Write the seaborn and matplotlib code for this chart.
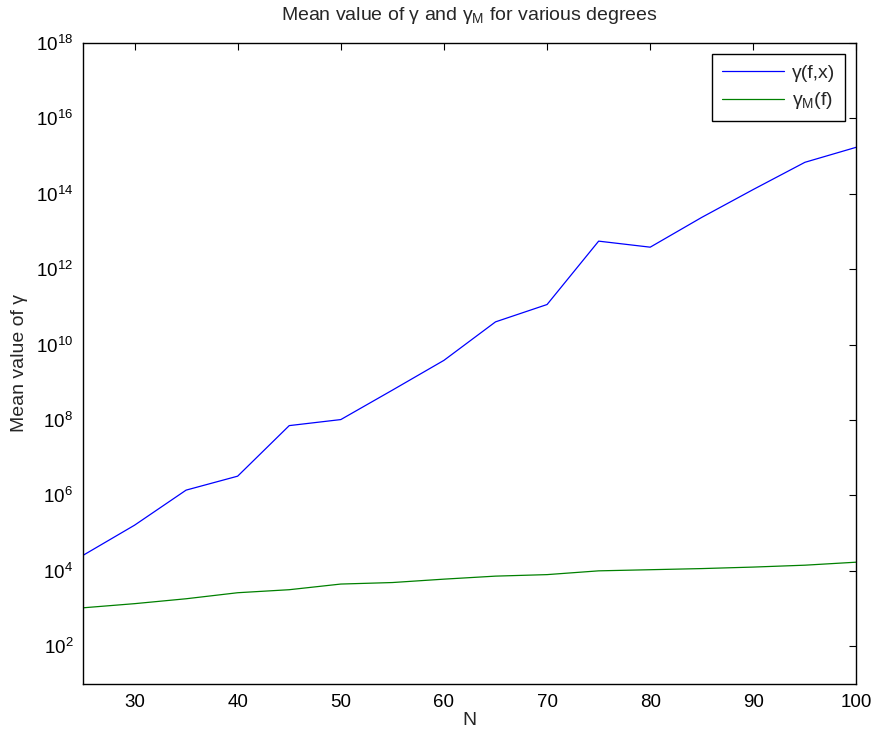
import numpy as np
import pandas as pd
import matplotlib
matplotlib.use("Agg")
import matplotlib.pyplot as plt
import seaborn as sns
from matplotlib.ticker import NullLocator

# Data (log10 of mean values)
N = [25, 30, 35, 40, 45, 50, 55, 60, 65, 70, 75, 80, 85, 90, 95, 100]
log_gamma_fx = [4.41, 5.21, 6.14, 6.51, 7.85, 8.01, 8.79, 9.58, 10.60, 11.06,
                12.74, 12.58, 13.37, 14.11, 14.83, 15.23]
log_gamma_M = [3.02, 3.13, 3.26, 3.42, 3.50, 3.65, 3.69, 3.78, 3.86, 3.90,
               4.00, 4.03, 4.06, 4.10, 4.15, 4.23]
labels = ["γ(f,x)", "γ$_{M}$(f)"]
colors = ["#0000ff", "#008000"]
x_ticks = [30, 40, 50, 60, 70, 80, 90, 100]
y_tick_exps = [2, 4, 6, 8, 10, 12, 14, 16, 18]

df = pd.DataFrame({
    "N": N * 2,
    "value": [10 ** v for v in log_gamma_fx] + [10 ** v for v in log_gamma_M],
    "series": [labels[0]] * len(N) + [labels[1]] * len(N),
})

sns.set_style("white")
plt.rcParams["font.family"] = ["Liberation Sans", "DejaVu Sans"]
plt.rcParams["mathtext.default"] = "regular"
plt.rcParams["mathtext.fontset"] = "custom"
plt.rcParams["mathtext.rm"] = "Liberation Sans"
plt.rcParams["mathtext.it"] = "Liberation Sans"

fig = plt.figure(figsize=(8.77, 7.39), dpi=100)
ax = fig.add_axes([0.0946, 0.0744, 0.882, 0.8678])

sns.lineplot(data=df, x="N", y="value", hue="series", palette=colors,
             hue_order=labels, linewidth=0.9, ax=ax, legend=True)

ax.set_yscale("log")
ax.set_xlim(25, 100)
ax.set_ylim(10, 1e18)
ax.set_yticks([10.0 ** e for e in y_tick_exps])
ax.set_yticklabels([f"$10^{{{e}}}$" for e in y_tick_exps])
ax.yaxis.set_minor_locator(NullLocator())
ax.set_xticks(x_ticks)
ax.set_xticklabels([str(t) for t in x_ticks])

ax.tick_params(axis="both", which="major", direction="in", length=5, width=0.8,
               top=True, right=True, labelsize=13.5, colors="black", pad=7)
for s in ax.spines.values():
    s.set_visible(True)
    s.set_color("black")
    s.set_linewidth(1.0)

ax.set_xlabel("N", fontsize=14, labelpad=1)
ax.set_ylabel("Mean value of γ", fontsize=14, labelpad=6)
ax.set_title("Mean value of γ and γ$_{M}$ for various degrees", fontsize=14, pad=16)

leg = ax.legend(loc="upper right", fontsize=14, frameon=True, fancybox=False,
                edgecolor="black", borderpad=0.5, handlelength=3.2,
                labelspacing=0.45, handletextpad=0.4, borderaxespad=0.6)
leg.get_frame().set_linewidth(1.0)
leg.get_frame().set_alpha(1)

fig.savefig("out.png", dpi=100)
